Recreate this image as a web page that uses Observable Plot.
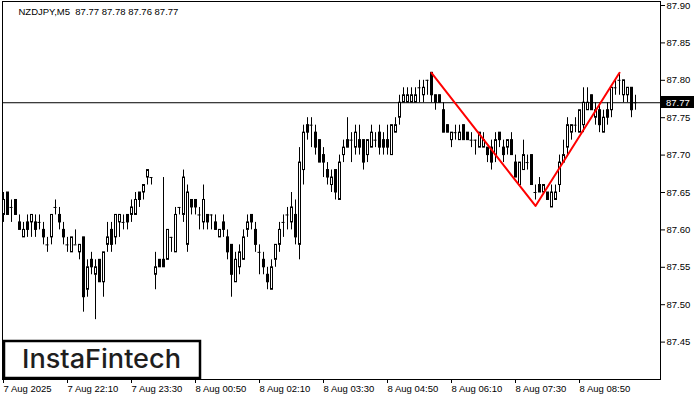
<!DOCTYPE html>
<html><head><meta charset="utf-8">
<script src="https://cdn.jsdelivr.net/npm/d3@7"></script>
<script src="https://cdn.jsdelivr.net/npm/@observablehq/plot@0.6"></script>
<style>
body{margin:0;background:#fff}
#chart{width:700px;height:400px}
</style>
</head><body><div id="chart"></div>
<script>
const symbolLabel = "NZDJPY,M5";
const lastQuote = [87.77, 87.78, 87.76, 87.77];
const logoText = "InstaFintech";

const opens = [87.62,87.65,87.63,87.64,87.61,87.59,87.61,87.61,87.61,87.61,
87.60,87.58,87.59,87.63,87.62,87.60,87.58,87.57,87.58,87.57,
87.59,87.52,87.56,87.54,87.56,87.53,87.58,87.60,87.59,87.61,
87.61,87.62,87.62,87.62,87.65,87.65,87.67,87.67,87.54,87.56,
87.56,87.56,87.59,87.57,87.63,87.62,87.58,87.64,87.64,87.62,
87.61,87.62,87.62,87.61,87.59,87.61,87.59,87.58,87.53,87.55,
87.56,87.60,87.62,87.60,87.57,87.56,87.54,87.52,87.56,87.58,
87.61,87.62,87.61,87.62,87.58,87.68,87.74,87.74,87.73,87.72,
87.70,87.68,87.66,87.68,87.64,87.70,87.72,87.72,87.71,87.72,
87.72,87.70,87.71,87.72,87.73,87.72,87.72,87.70,87.73,87.75,
87.77,87.77,87.77,87.77,87.79,87.78,87.80,87.81,87.78,87.78,
87.76,87.74,87.72,87.73,87.72,87.74,87.73,87.72,87.72,87.71,
87.71,87.71,87.71,87.70,87.73,87.71,87.71,87.72,87.69,87.66,
87.68,87.69,87.70,87.65,87.66,87.65,87.65,87.63,87.64,87.66,
87.69,87.71,87.73,87.74,87.73,87.74,87.76,87.78,87.75,87.76,
87.73,87.76,87.76,87.79,87.80,87.78,87.78,87.79,87.77];
const highs = [87.65,87.65,87.64,87.64,87.62,87.61,87.62,87.62,87.62,87.62,
87.61,87.59,87.62,87.64,87.63,87.61,87.59,87.59,87.60,87.58,
87.59,87.56,87.57,87.56,87.56,87.57,87.61,87.61,87.62,87.62,
87.62,87.62,87.64,87.65,87.65,87.66,87.68,87.67,87.57,87.56,
87.67,87.60,87.59,87.63,87.63,87.68,87.66,87.64,87.64,87.63,
87.66,87.62,87.62,87.62,87.60,87.62,87.60,87.58,87.57,87.58,
87.60,87.62,87.62,87.61,87.58,87.57,87.55,87.56,87.58,87.61,
87.62,87.63,87.65,87.64,87.71,87.74,87.75,87.75,87.74,87.72,
87.71,87.69,87.68,87.68,87.70,87.72,87.75,87.73,87.74,87.74,
87.72,87.72,87.74,87.73,87.74,87.73,87.74,87.74,87.75,87.78,
87.79,87.79,87.79,87.79,87.80,87.80,87.80,87.81,87.78,87.78,
87.77,87.74,87.73,87.74,87.74,87.74,87.73,87.73,87.72,87.73,
87.73,87.71,87.72,87.73,87.73,87.72,87.72,87.73,87.70,87.69,
87.72,87.70,87.70,87.66,87.67,87.66,87.65,87.66,87.66,87.70,
87.72,87.75,87.74,87.75,87.76,87.79,87.79,87.78,87.77,87.77,
87.76,87.77,87.79,87.80,87.81,87.80,87.79,87.79,87.78];
const lows = [87.61,87.62,87.61,87.62,87.60,87.59,87.59,87.59,87.59,87.60,
87.58,87.57,87.58,87.62,87.60,87.58,87.57,87.57,87.58,87.56,
87.49,87.51,87.54,87.48,87.53,87.51,87.57,87.57,87.58,87.59,
87.60,87.60,87.61,87.62,87.63,87.64,87.66,87.66,87.52,87.55,
87.55,87.56,87.57,87.57,87.62,87.61,87.57,87.62,87.62,87.60,
87.60,87.60,87.60,87.60,87.59,87.59,87.56,87.51,87.53,87.54,
87.56,87.59,87.60,87.57,87.54,87.54,87.52,87.52,87.55,87.57,
87.59,87.60,87.60,87.58,87.56,87.66,87.72,87.71,87.70,87.69,
87.67,87.66,87.65,87.64,87.64,87.69,87.71,87.69,87.70,87.70,
87.68,87.69,87.71,87.71,87.70,87.70,87.70,87.70,87.73,87.74,
87.77,87.77,87.77,87.77,87.77,87.77,87.78,87.77,87.76,87.77,
87.73,87.73,87.71,87.72,87.72,87.72,87.72,87.71,87.70,87.71,
87.71,87.69,87.68,87.69,87.71,87.69,87.70,87.70,87.67,87.66,
87.68,87.68,87.66,87.64,87.65,87.65,87.64,87.63,87.64,87.65,
87.69,87.70,87.72,87.73,87.73,87.73,87.76,87.76,87.74,87.73,
87.73,87.74,87.75,87.78,87.78,87.77,87.77,87.75,87.76];
const closes = [87.64,87.62,87.63,87.62,87.60,87.60,87.60,87.62,87.60,87.61,
87.59,87.58,87.62,87.63,87.61,87.59,87.58,87.59,87.58,87.58,
87.51,87.55,87.55,87.55,87.53,87.57,87.59,87.58,87.62,87.62,
87.61,87.61,87.63,87.64,87.64,87.66,87.68,87.67,87.55,87.55,
87.55,87.60,87.59,87.62,87.63,87.67,87.65,87.63,87.63,87.62,
87.64,87.61,87.62,87.60,87.60,87.60,87.57,87.54,87.56,87.57,
87.59,87.61,87.61,87.58,87.57,87.55,87.53,87.55,87.58,87.60,
87.61,87.62,87.63,87.59,87.69,87.73,87.73,87.74,87.71,87.69,
87.69,87.67,87.67,87.65,87.69,87.71,87.71,87.72,87.73,87.71,
87.69,87.72,87.73,87.72,87.71,87.71,87.71,87.74,87.74,87.77,
87.78,87.78,87.78,87.78,87.79,87.79,87.80,87.78,87.77,87.77,
87.73,87.73,87.73,87.73,87.73,87.72,87.72,87.72,87.72,87.73,
87.72,87.70,87.69,87.72,87.72,87.70,87.72,87.70,87.67,87.69,
87.70,87.69,87.66,87.65,87.65,87.66,87.64,87.65,87.65,87.69,
87.70,87.74,87.74,87.74,87.76,87.77,87.77,87.76,87.76,87.74,
87.75,87.75,87.79,87.79,87.80,87.80,87.79,87.76,87.77];

const xTickIndex = [0,16,32,48,64,80,96,112,128,144];
const xTickLabels = ["7 Aug 2025","7 Aug 22:10","7 Aug 23:30","8 Aug 00:50","8 Aug 02:10",
  "8 Aug 03:30","8 Aug 04:50","8 Aug 06:10","8 Aug 07:30","8 Aug 08:50"];
const yTicks = [87.45,87.50,87.55,87.60,87.65,87.70,87.75,87.80,87.85,87.90];

const patternIndex = [107,133,154];
const patternPrice = [87.81,87.632,87.81];

const candles = opens.map((o,i)=>({i,o,h:highs[i],l:lows[i],c:closes[i]}));
const bodies = candles.filter(d=>d.o!==d.c);
const dojis = candles.filter(d=>d.o===d.c);
const pattern = patternIndex.map((i,k)=>({i,p:patternPrice[k]}));
const lastClose = lastQuote[3];
const titleText = symbolLabel + "\u00a0 " + lastQuote.map(v=>v.toFixed(2)).join(" ");

const font = "Liberation Sans, Arial, sans-serif";
const plot = Plot.plot({
  width:700, height:400,
  marginLeft:2, marginRight:40, marginTop:1, marginBottom:21,
  style:{fontFamily:font, fontSize:"9.5px", background:"#fff", color:"#000"},
  x:{type:"linear", domain:[-0.25,164.25]},
  y:{domain:[87.40, 87.90535]},
  marks:[
    Plot.ruleY([lastClose],{stroke:"#000", strokeWidth:1}),
    Plot.ruleX(candles,{x:"i", y1:"l", y2:"h", stroke:"#000", strokeWidth:1}),
    Plot.rect(bodies,{x1:d=>d.i-0.25, x2:d=>d.i+0.25, y1:"o", y2:"c", dx:0.5,
      fill:d=>d.c>d.o?"#fff":"#000", stroke:"#000", strokeWidth:1}),
    Plot.ruleY(dojis,{y:"o", x1:d=>d.i-0.375, x2:d=>d.i+0.375, stroke:"#000", strokeWidth:1}),
    Plot.line(pattern,{x:"i", y:"p", stroke:"#ff0000", strokeWidth:2}),
    Plot.frame({stroke:"#000"}),
    Plot.axisY(yTicks,{anchor:"right", tickSize:4, tickPadding:2, tickFormat:d=>d.toFixed(2), label:null, fill:"#000"}),
    Plot.axisX(xTickIndex,{anchor:"bottom", tickSize:4, tickPadding:2, textAnchor:"start",
      tickFormat:d=>xTickLabels[xTickIndex.indexOf(d)], label:null, fill:"#000"}),
    Plot.text([titleText],{frameAnchor:"top-left", dx:16, dy:7, textAnchor:"start", fill:"#000", fontSize:9.5})
  ]
});
document.getElementById("chart").appendChild(plot);

const svg = d3.select(plot);
const yPix = plot.scale("y").apply(lastClose);
const tag = svg.append("g").attr("text-anchor","start");
tag.append("rect").attr("x",661).attr("y",Math.round(yPix)-6).attr("width",33).attr("height",12).attr("fill","#000");
tag.append("text").attr("x",666).attr("y",Math.round(yPix)+3.5).attr("fill","#fff")
  .attr("text-anchor","start")
  .attr("font-family",font).attr("font-size","9.5px").text(lastClose.toFixed(2));

const logo = svg.append("g").attr("text-anchor","start");
logo.append("rect").attr("x",4).attr("y",341).attr("width",196).attr("height",37)
  .attr("fill","#fff").attr("stroke","#000").attr("stroke-width",2.5);
logo.append("text").attr("x",22).attr("y",368).attr("fill","#1e1e1e")
  .attr("text-anchor","start")
  .attr("font-family","Inter, Lato, sans-serif").attr("font-weight",500).attr("font-size","26px")
  .attr("textLength",159).attr("lengthAdjust","spacingAndGlyphs").text(logoText);
</script>
</body></html>
